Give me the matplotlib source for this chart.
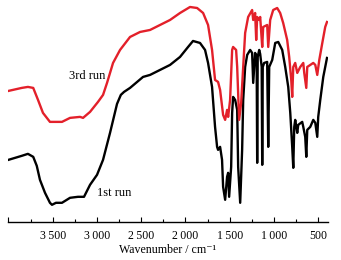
import numpy as np
import matplotlib.pyplot as plt
from matplotlib.ticker import MultipleLocator, FuncFormatter

plt.rcParams['font.family'] = ['Liberation Serif', 'DejaVu Serif']

# 1st run (black), wavenumber / cm-1 and transmittance (arb. units)
wn_1st = [4000, 3850, 3780, 3720, 3680, 3644, 3587, 3531, 3508, 3463, 3395, 3304, 3214, 3146,
          3078, 2999, 2931, 2852, 2773, 2730, 2694, 2626, 2479, 2400, 2287, 2174, 2061,
          1970, 1914, 1835, 1778, 1744, 1699, 1665, 1642, 1631, 1608, 1586, 1574,
          1551, 1529, 1517, 1506, 1483, 1472, 1461, 1438, 1415, 1404, 1381, 1359,
          1347, 1325, 1302, 1268, 1246, 1234, 1212, 1195, 1189, 1183, 1166, 1155,
          1138, 1132, 1126, 1110, 1076, 1064, 1053, 1019, 985, 951, 906, 872,
          838, 815, 793, 781, 770, 759, 736, 725, 680, 668, 646, 634,
          623, 589, 555, 532, 510, 499, 476, 442, 400]
t_1st = [62, 66, 68, 65, 56, 42, 29, 19, 17, 19, 19, 24, 25, 25,
         37, 47, 62, 89, 118, 127, 130, 134, 145, 147, 152, 157, 165,
         175, 181, 179, 172, 159, 135, 95, 75, 72, 75, 62, 35,
         22, 45, 49, 25, 55, 109, 125, 122, 112, 55, 19, 72,
         122, 155, 167, 172, 169, 139, 169, 165, 59, 165, 172, 168,
         155, 57, 155, 159, 160, 75, 155, 162, 179, 180, 172, 155,
         135, 109, 75, 54, 95, 102, 89, 97, 100, 95, 85, 65,
         92, 95, 102, 99, 85, 105, 122, 145, 164]

# 3rd run (red)
wn_3rd = [4000, 3850, 3780, 3720, 3666, 3610, 3531, 3497, 3395, 3304, 3191, 3157, 3078,
          2988, 2931, 2886, 2818, 2739, 2626, 2513, 2400, 2287, 2174, 2061, 1948,
          1868, 1800, 1744, 1699, 1665, 1631, 1608, 1574, 1551, 1529, 1517, 1495,
          1472, 1461, 1427, 1415, 1393, 1370, 1347, 1325, 1291, 1246, 1234, 1212,
          1200, 1189, 1166, 1155, 1132, 1121, 1076, 1064, 1042, 1008, 963, 929,
          895, 850, 827, 804, 793, 781, 759, 736, 702, 668, 657, 634,
          623, 589, 555, 532, 510, 487, 453, 420, 400]
t_3rd = [131, 134, 135, 134, 122, 109, 100, 100, 100, 104, 105, 104, 110,
         120, 127, 139, 159, 172, 185, 190, 192, 197, 202, 209, 215,
         214, 209, 197, 172, 142, 140, 132, 107, 102, 112, 105, 122,
         172, 175, 172, 155, 102, 119, 155, 189, 205, 212, 202, 209,
         182, 205, 202, 205, 175, 195, 197, 175, 202, 212, 214, 209,
         199, 182, 165, 142, 125, 155, 159, 149, 155, 159, 149, 134,
         155, 157, 159, 157, 147, 162, 179, 195, 200]

fig = plt.figure(figsize=(3.41, 2.60), dpi=100)
ax = fig.add_axes([0.0235, 0.147, 0.938, 0.853])

ax.plot(wn_1st, t_1st, color='black', lw=1.7, solid_joinstyle='round')
ax.plot(wn_3rd, t_3rd, color='#e3202a', lw=1.7, solid_joinstyle='round')

ax.text(2905, 146, '3rd run', fontsize=9, ha='right', va='center')
ax.text(3000, 29, '1st run', fontsize=9, ha='left', va='center')

ax.set_xlim(4005, 390)
ax.set_ylim(0, 222)
for s in ['top', 'left', 'right']:
    ax.spines[s].set_visible(False)
ax.spines['bottom'].set_linewidth(1.0)
ax.set_yticks([])
ax.xaxis.set_major_locator(MultipleLocator(500))
ax.xaxis.set_minor_locator(MultipleLocator(250))
ax.xaxis.set_major_formatter(FuncFormatter(
    lambda v, p: f"{int(v):,}".replace(',', '\u2009') if v < 3900 else ''))
ax.tick_params(axis='x', which='major', direction='in', length=3.5, width=0.8,
               pad=6, labelsize=8.5)
ax.tick_params(axis='x', which='minor', direction='in', length=2, width=0.8)
ax.set_xlabel('Wavenumber / cm\u207b\u00b9', fontsize=8.6, labelpad=1)

fig.savefig('out.png', dpi=100)
